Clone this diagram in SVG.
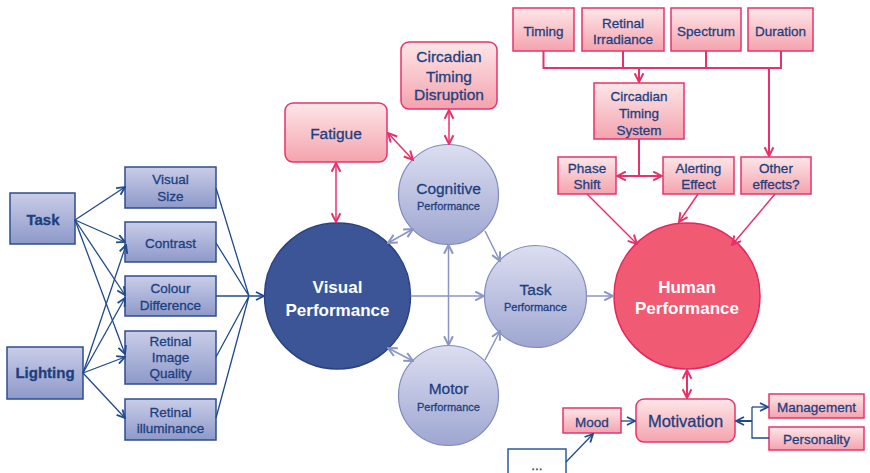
<svg xmlns="http://www.w3.org/2000/svg" width="870" height="473" viewBox="0 0 870 473">
  <defs>
    <linearGradient id="gBlueBox" x1="0" y1="0" x2="0" y2="1">
      <stop offset="0" stop-color="#c9cde8"/>
      <stop offset="1" stop-color="#8e99c9"/>
    </linearGradient>
    <linearGradient id="gCircle" x1="0" y1="0" x2="0" y2="1">
      <stop offset="0" stop-color="#dcdef0"/>
      <stop offset="1" stop-color="#9ea6d1"/>
    </linearGradient>
    <linearGradient id="gPink" x1="0" y1="0" x2="0" y2="1">
      <stop offset="0" stop-color="#fde6e8"/>
      <stop offset="1" stop-color="#f4a3ae"/>
    </linearGradient>
    <marker id="aBlue" viewBox="0 0 10 10" refX="9" refY="5" markerWidth="10" markerHeight="10" markerUnits="userSpaceOnUse" orient="auto-start-reverse">
      <path d="M1,1 L9,5 L1,9" fill="none" stroke="#1f4a8c" stroke-width="1.8"/>
    </marker>
    <marker id="aPink" viewBox="0 0 10 10" refX="9" refY="5" markerWidth="11" markerHeight="11" markerUnits="userSpaceOnUse" orient="auto-start-reverse">
      <path d="M1,1 L9,5 L1,9" fill="none" stroke="#e8306a" stroke-width="1.8"/>
    </marker>
    <marker id="aLav" viewBox="0 0 10 10" refX="9" refY="5" markerWidth="11" markerHeight="11" markerUnits="userSpaceOnUse" orient="auto-start-reverse">
      <path d="M1,1 L9,5 L1,9" fill="none" stroke="#8a94c5" stroke-width="1.8"/>
    </marker>
  </defs>
  <style>
    text { font-family: "Liberation Sans", Arial, sans-serif; fill: #1d3f80; stroke: #1d3f80; stroke-width: 0.3; text-anchor: middle; }
    .bbox { fill: url(#gBlueBox); stroke: #2e4d8f; stroke-width: 1.5; }
    .pbox { fill: url(#gPink); stroke: #e8336a; stroke-width: 1.5; }
    .circ { fill: url(#gCircle); stroke: #8089c0; stroke-width: 1.2; }
    .t135 { font-size: 13.5px; }
    .t15 { font-size: 15.5px; }
    .t11 { font-size: 11px; }
    .big { font-size: 17px; font-weight: bold; fill: #ffffff; stroke: none; }
    .bold { font-size: 15px; font-weight: bold; }
    .lb { fill: none; stroke: #1f4a8c; stroke-width: 1.3; }
    .lp { fill: none; stroke: #e8306a; stroke-width: 1.5; }
    .lp2 { fill: none; stroke: #e8306a; stroke-width: 2; }
    .ll { fill: none; stroke: #8a94c5; stroke-width: 1.5; }
  </style>

  <!-- input factors -->
  <g id="task"><rect class="bbox" x="10" y="193" width="65" height="51"/><text class="bold" x="43" y="225">Task</text></g>
  <g id="lighting"><rect class="bbox" x="7" y="347" width="76" height="52"/><text class="bold" x="45" y="378">Lighting</text></g>

  <g id="visual-size"><rect class="bbox" x="125" y="167" width="91" height="41"/><text class="t135" x="170.5" y="184">Visual</text><text class="t135" x="170.5" y="201">Size</text></g>
  <g id="contrast"><rect class="bbox" x="125" y="222" width="91" height="40"/><text class="t135" x="170.5" y="248">Contrast</text></g>
  <g id="colour-difference"><rect class="bbox" x="125" y="276" width="91" height="40"/><text class="t135" x="170.5" y="293">Colour</text><text class="t135" x="170.5" y="310">Difference</text></g>
  <g id="retinal-image-quality"><rect class="bbox" x="125" y="331" width="91" height="53"/><text class="t135" x="170.5" y="346">Retinal</text><text class="t135" x="170.5" y="362">Image</text><text class="t135" x="170.5" y="378">Quality</text></g>
  <g id="retinal-illuminance"><rect class="bbox" x="125" y="399" width="91" height="41"/><text class="t135" x="170.5" y="417">Retinal</text><text class="t135" x="170.5" y="433">illuminance</text></g>

  <!-- performance circles -->
  <g id="visual-performance"><circle cx="337.5" cy="296" r="73" fill="#3c5596" stroke="#2a4282" stroke-width="1.5"/><text class="big" x="337.5" y="293">Visual</text><text class="big" x="337.5" y="316">Performance</text></g>
  <g id="cognitive-performance"><circle class="circ" cx="448.5" cy="194.5" r="50"/><text class="t15" x="448.5" y="193.5">Cognitive</text><text class="t11" x="448.5" y="210">Performance</text></g>
  <g id="task-performance"><circle class="circ" cx="535.5" cy="296.5" r="51"/><text class="t15" x="535.5" y="294.5">Task</text><text class="t11" x="535.5" y="311">Performance</text></g>
  <g id="motor-performance"><circle class="circ" cx="448.5" cy="395.5" r="50"/><text class="t15" x="448.5" y="393.5">Motor</text><text class="t11" x="448.5" y="411">Performance</text></g>
  <g id="human-performance"><circle cx="687" cy="296" r="73" fill="#f05a73" stroke="#e8245c" stroke-width="1.5"/><text class="big" x="687" y="293">Human</text><text class="big" x="687" y="314">Performance</text></g>

  <!-- modifiers -->
  <g id="fatigue"><rect class="pbox" x="285" y="103" width="102" height="59" rx="8"/><text class="t15" x="336" y="138.5">Fatigue</text></g>
  <g id="circadian-timing-disruption"><rect class="pbox" x="401" y="42" width="96" height="67" rx="8"/><text class="t15" x="449" y="62">Circadian</text><text class="t15" x="449" y="82">Timing</text><text class="t15" x="449" y="100">Disruption</text></g>

  <g id="timing"><rect class="pbox" x="513" y="8" width="61" height="43"/><text class="t135" x="543.5" y="36">Timing</text></g>
  <g id="retinal-irradiance"><rect class="pbox" x="582" y="8" width="82" height="43"/><text class="t135" x="623" y="28">Retinal</text><text class="t135" x="623" y="44">Irradiance</text></g>
  <g id="spectrum"><rect class="pbox" x="671" y="8" width="70" height="43"/><text class="t135" x="706" y="36">Spectrum</text></g>
  <g id="duration"><rect class="pbox" x="748" y="8" width="65" height="43"/><text class="t135" x="780.5" y="36">Duration</text></g>
  <g id="circadian-timing-system"><rect class="pbox" x="594" y="83" width="90" height="56"/><text class="t135" x="639" y="101">Circadian</text><text class="t135" x="639" y="118">Timing</text><text class="t135" x="639" y="135">System</text></g>
  <g id="phase-shift"><rect class="pbox" x="558" y="157" width="58" height="37"/><text class="t135" x="587" y="173">Phase</text><text class="t135" x="587" y="189">Shift</text></g>
  <g id="alerting-effect"><rect class="pbox" x="663" y="157" width="71" height="37"/><text class="t135" x="698.5" y="173">Alerting</text><text class="t135" x="698.5" y="189">Effect</text></g>
  <g id="other-effects"><rect class="pbox" x="741" y="157" width="70" height="37"/><text class="t135" x="776" y="173">Other</text><text class="t135" x="776" y="189">effects?</text></g>

  <g id="mood"><rect class="pbox" x="563" y="408" width="58" height="25"/><text class="t135" x="592" y="426.5">Mood</text></g>
  <g id="motivation"><rect class="pbox" x="636" y="399" width="99" height="43" rx="8"/><text class="t15" x="685.5" y="427" style="font-size:16.5px">Motivation</text></g>
  <g id="management"><rect class="pbox" x="769" y="394" width="95" height="24"/><text class="t135" x="816.5" y="411.5">Management</text></g>
  <g id="personality"><rect class="pbox" x="769" y="427" width="95" height="23"/><text class="t135" x="816.5" y="443.5">Personality</text></g>
  <g id="more"><rect x="508" y="449" width="58" height="30" fill="#ffffff" stroke="#2e5a9a" stroke-width="1.5"/><text class="t135" x="537" y="470">...</text></g>

  <g id="connectors">
    <!-- Task and Lighting to visual factors -->
    <line class="lb" x1="75" y1="220" x2="125" y2="187" marker-end="url(#aBlue)"/>
    <line class="lb" x1="75" y1="220" x2="125" y2="242" marker-end="url(#aBlue)"/>
    <line class="lb" x1="75" y1="220" x2="125" y2="295" marker-end="url(#aBlue)"/>
    <line class="lb" x1="75" y1="220" x2="125" y2="354" marker-end="url(#aBlue)"/>
    <line class="lb" x1="83" y1="373" x2="126" y2="245" marker-end="url(#aBlue)"/>
    <line class="lb" x1="83" y1="373" x2="125" y2="298" marker-end="url(#aBlue)"/>
    <line class="lb" x1="83" y1="373" x2="125" y2="357" marker-end="url(#aBlue)"/>
    <line class="lb" x1="83" y1="373" x2="125" y2="418" marker-end="url(#aBlue)"/>
    <!-- visual factors converge on visual performance -->
    <path class="lb" d="M216,188 L249,296 M216,243 L249,296 M216,357 L249,296 M216,418 L249,296"/>
    <line class="lb" x1="216" y1="296" x2="264" y2="296" marker-end="url(#aBlue)"/>

    <!-- between performance circles -->
    <line class="ll" x1="388" y1="243" x2="413" y2="229" marker-start="url(#aLav)" marker-end="url(#aLav)"/>
    <line class="ll" x1="388" y1="348" x2="413" y2="361" marker-start="url(#aLav)" marker-end="url(#aLav)"/>
    <line class="ll" x1="448.5" y1="245" x2="448.5" y2="345" marker-start="url(#aLav)" marker-end="url(#aLav)"/>
    <line class="ll" x1="485" y1="231" x2="500" y2="261" marker-end="url(#aLav)"/>
    <line class="ll" x1="485" y1="360" x2="500" y2="331" marker-end="url(#aLav)"/>
    <line class="ll" x1="410.5" y1="296" x2="484" y2="296" marker-end="url(#aLav)"/>
    <line class="ll" x1="586.5" y1="296" x2="613" y2="296" marker-end="url(#aLav)"/>

    <!-- fatigue and circadian disruption -->
    <line class="lp" x1="336" y1="163" x2="336" y2="222" marker-start="url(#aPink)" marker-end="url(#aPink)"/>
    <line class="lp" x1="388" y1="133" x2="413" y2="160" marker-start="url(#aPink)" marker-end="url(#aPink)"/>
    <line class="lp" x1="449" y1="110" x2="449" y2="144" marker-start="url(#aPink)" marker-end="url(#aPink)"/>

    <!-- light characteristics to circadian system -->
    <path class="lp2" d="M543.5,51 V68 H781 V51 M623,51 V68 M706,51 V68"/>
    <line class="lp2" x1="639" y1="68" x2="639" y2="82" marker-end="url(#aPink)"/>
    <line class="lp2" x1="769" y1="68" x2="769" y2="156" marker-end="url(#aPink)"/>
    <line class="lp2" x1="639" y1="139" x2="639" y2="176"/>
    <line class="lp2" x1="617" y1="176" x2="662" y2="176" marker-start="url(#aPink)" marker-end="url(#aPink)"/>

    <!-- effects to human performance -->
    <line class="lp" x1="587" y1="194" x2="637" y2="244" marker-end="url(#aPink)"/>
    <line class="lp" x1="698" y1="194" x2="679" y2="222" marker-end="url(#aPink)"/>
    <line class="lp" x1="775" y1="194" x2="732" y2="245" marker-end="url(#aPink)"/>
    <line class="lp2" x1="687" y1="370" x2="687" y2="398" marker-start="url(#aPink)" marker-end="url(#aPink)"/>

    <!-- motivation inputs -->
    <line class="lb" x1="621" y1="421" x2="635" y2="421" marker-end="url(#aBlue)"/>
    <line class="lb" x1="566" y1="462" x2="593" y2="434" marker-end="url(#aBlue)"/>
    <line class="lb" x1="752" y1="421" x2="736" y2="421" marker-end="url(#aBlue)" style="stroke-width:2"/>
    <path class="lb" d="M752,407 V438 H769"/>
    <line class="lb" x1="752" y1="407" x2="768" y2="407" marker-end="url(#aBlue)"/>
  </g>
</svg>
